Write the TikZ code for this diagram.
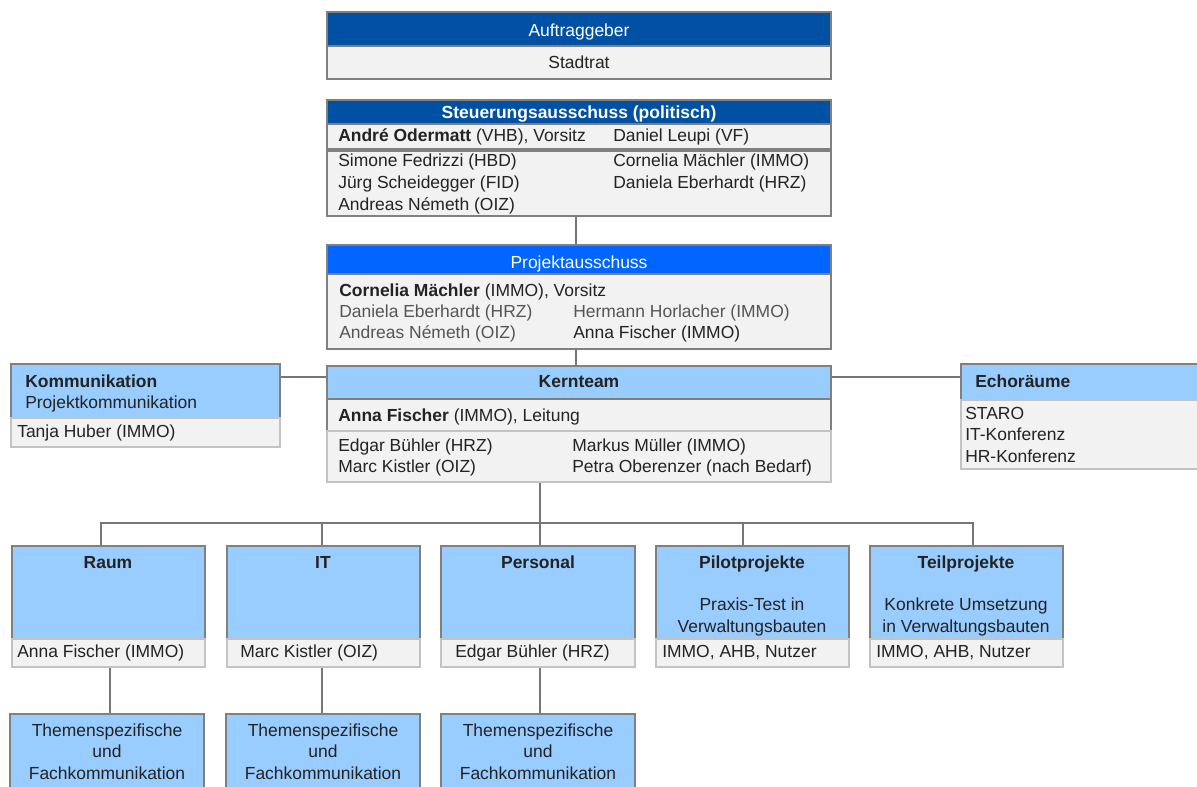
\documentclass[tikz,border=0pt]{standalone}
\usepackage{fontspec}
\setmainfont{Liberation Sans}
\usetikzlibrary{fit}
\definecolor{dblue}{RGB}{0,81,163}
\definecolor{bblue}{RGB}{0,102,255}
\definecolor{lblue}{RGB}{153,204,255}
\definecolor{lgray}{RGB}{242,242,242}
\definecolor{bord}{RGB}{128,128,128}
\definecolor{bordl}{RGB}{195,195,195}
\definecolor{conc}{RGB}{118,118,118}
\definecolor{tdark}{RGB}{35,35,35}
\definecolor{tmid}{RGB}{85,85,85}
\tikzset{
  boxbase/.style={inner sep=0pt, line width=1.1pt},
  hdark/.style={boxbase, draw=bord, fill=dblue},
  hbright/.style={boxbase, draw=bord, fill=bblue},
  hlight/.style={boxbase, draw=bord, fill=lblue},
  grayrow/.style={boxbase, draw=bord, fill=lgray},
  grayrowl/.style={boxbase, draw=bordl, fill=lgray},
  conn/.style={draw=conc, line width=1.5pt},
  txt/.style={inner sep=0pt, font=\fontsize{13.1}{16}\selectfont, text=tdark, anchor=base west},
  txtm/.style={txt, text=tmid},
  ctxt/.style={txt, anchor=base},
  wtxt/.style={ctxt, text=white},
  btxt/.style={ctxt, font=\fontsize{13.1}{16}\selectfont\bfseries},
}
\begin{document}
\begin{tikzpicture}[x=0.75pt,y=-0.75pt]
\clip (0,0) rectangle (1197,787);
\fill[white] (0,0) rectangle (1197,787);

% Auftraggeber
\node[hdark, fit={(327,12) (831,46)}] (aufh) {};
\node[grayrow, fit={(327,46) (831,79)}] (aufb) {};
\node[wtxt] (taufh) at (579,37) {Auftraggeber};
\node[ctxt] (taufb) at (579,69) {Stadtrat};

% Steuerungsausschuss
\node[hdark, fit={(327,100) (831,124)}] (sth) {};
\node[grayrow, fit={(327,124) (831,149)}] (str1) {};
\node[grayrow, fit={(327,151) (831,216)}] (str2) {};
\node[btxt, text=white] (tsth) at (579,119) {Steuerungsausschuss (politisch)};
\node[txt] (ts1) at (338,142) {\textbf{André Odermatt} (VHB), Vorsitz};
\node[txt] (ts2) at (613,142) {Daniel Leupi (VF)};
\node[txt] (ts3) at (338,167) {Simone Fedrizzi (HBD)};
\node[txt] (ts4) at (613,167) {Cornelia Mächler (IMMO)};
\node[txt] (ts5) at (338,189) {Jürg Scheidegger (FID)};
\node[txt] (ts6) at (613,189) {Daniela Eberhardt (HRZ)};
\node[txt] (ts7) at (338,211) {Andreas Németh (OIZ)};

% Projektausschuss
\node[hbright, fit={(327,245) (831,274)}] (pah) {};
\node[grayrow, fit={(327,274) (831,349)}] (pab) {};
\node[wtxt] (tpah) at (579,269) {Projektausschuss};
\node[txt] (tp1) at (339,297) {\textbf{Cornelia Mächler} (IMMO), Vorsitz};
\node[txtm] (tp2) at (339,318) {Daniela Eberhardt (HRZ)};
\node[txtm] (tp3) at (573,318) {Hermann Horlacher (IMMO)};
\node[txtm] (tp4) at (339,339) {Andreas Németh (OIZ)};
\node[txt] (tp5) at (573,339) {Anna Fischer (IMMO)};

% Kernteam
\node[hlight, fit={(327,366) (831,399)}] (kth) {};
\node[grayrow, fit={(327,399) (831,431)}] (ktr1) {};
\node[grayrowl, fit={(327,431) (831,482)}] (ktr2) {};
\node[btxt] (tkth) at (579,388) {Kernteam};
\node[txt] (tk1) at (338,422) {\textbf{Anna Fischer} (IMMO), Leitung};
\node[txt] (tk2) at (338,452) {Edgar Bühler (HRZ)};
\node[txt] (tk3) at (572,452) {Markus Müller (IMMO)};
\node[txt] (tk4) at (338,473) {Marc Kistler (OIZ)};
\node[txt] (tk5) at (572,473) {Petra Oberenzer (nach Bedarf)};

% Kommunikation
\node[hlight, fit={(11,364) (280,418)}] (koh) {};
\node[grayrowl, fit={(11,418) (280,447)}] (kob) {};
\node[txt, font=\fontsize{13.1}{16}\selectfont\bfseries] (tko1) at (25,388) {Kommunikation};
\node[txt] (tko2) at (25,409) {Projektkommunikation};
\node[txt] (tko3) at (17,438) {Tanja Huber (IMMO)};

% Echoraeume
\node[hlight, fit={(961,364) (1205,400)}] (ech) {};
\node[grayrowl, fit={(961,400) (1205,469)}] (ecb) {};
\node[txt, font=\fontsize{13.1}{16}\selectfont\bfseries] (tec1) at (975,388) {Echoräume};
\node[txt] (tec2) at (965,420) {STARO};
\node[txt] (tec3) at (965,441) {IT-Konferenz};
\node[txt] (tec4) at (965,463) {HR-Konferenz};

% Lower boxes
\node[hlight, fit={(12,546) (205,639)}] (rah) {};
\node[grayrowl, fit={(12,639) (205,667)}] (rab) {};
\node[hlight, fit={(227,546) (420,639)}] (ith) {};
\node[grayrowl, fit={(227,639) (420,667)}] (itb) {};
\node[hlight, fit={(441,546) (635,639)}] (peh) {};
\node[grayrowl, fit={(441,639) (635,667)}] (peb) {};
\node[hlight, fit={(656,546) (849,639)}] (pih) {};
\node[grayrowl, fit={(656,639) (849,667)}] (pib) {};
\node[hlight, fit={(870,546) (1063,639)}] (teh) {};
\node[grayrowl, fit={(870,639) (1063,667)}] (teb) {};

\node[btxt] (tra) at (108,569) {Raum};
\node[btxt] (tit) at (323,569) {IT};
\node[btxt] (tpe) at (538,569) {Personal};
\node[btxt] (tpi) at (752,569) {Pilotprojekte};
\node[btxt] (tte) at (966,569) {Teilprojekte};
\node[ctxt] (tpi2) at (752,611) {Praxis-Test in};
\node[ctxt] (tpi3) at (752,633) {Verwaltungsbauten};
\node[ctxt] (tte2) at (966,611) {Konkrete Umsetzung};
\node[ctxt] (tte3) at (966,633) {in Verwaltungsbauten};
\node[txt] (trab) at (17,658) {Anna Fischer (IMMO)};
\node[txt] (titb) at (240,658) {Marc Kistler (OIZ)};
\node[txt] (tpeb) at (455,658) {Edgar Bühler (HRZ)};
\node[txt] (tpib) at (662,658) {IMMO, AHB, Nutzer};
\node[txt] (tteb) at (876,658) {IMMO, AHB, Nutzer};

% Bottom boxes
\node[hlight, fit={(10,714) (204,800)}] (ras) {};
\node[hlight, fit={(226,714) (420,800)}] (its) {};
\node[hlight, fit={(441,714) (635,800)}] (pes) {};
\foreach \cx/\nm in {107/ra, 323/it, 538/pe}{
  \node[ctxt] (\nm s1) at (\cx,737) {Themenspezifische};
  \node[ctxt] (\nm s2) at (\cx,758) {und};
  \node[ctxt] (\nm s3) at (\cx,779) {Fachkommunikation};
}

% Connectors
\coordinate (kx) at (540,0);
\draw[conn] ([xshift=-2.25pt]str2.south) -- ([xshift=-2.25pt]pah.north);
\draw[conn] ([xshift=-2.25pt]pab.south) -- ([xshift=-2.25pt]kth.north);
\draw[conn] (koh.north east) ++(0,14) coordinate (kol) -- (kol -| kth.west);
\draw[conn] (kth.north east) ++(0,12) coordinate (ecl) -- (ecl -| ech.west);
\draw[conn] (ktr2.south -| kx) -- (peh.north -| kx);
\draw[conn] ([xshift=-5.5pt]rah.north) -- ++(0,-22) -| ([xshift=5pt]teh.north);
\draw[conn] ([xshift=-1pt]ith.north) -- ++(0,-22);
\draw[conn] ([xshift=-7.5pt]pih.north) -- ++(0,-22);
\draw[conn] ([xshift=0.75pt]rab.south) -- ([xshift=0.75pt]rab.south |- ras.north);
\draw[conn] ([xshift=-1pt]itb.south) -- ([xshift=-1pt]itb.south |- its.north);
\draw[conn] ([xshift=1.5pt]peb.south) -- ([xshift=1.5pt]peb.south |- pes.north);
\end{tikzpicture}
\end{document}
